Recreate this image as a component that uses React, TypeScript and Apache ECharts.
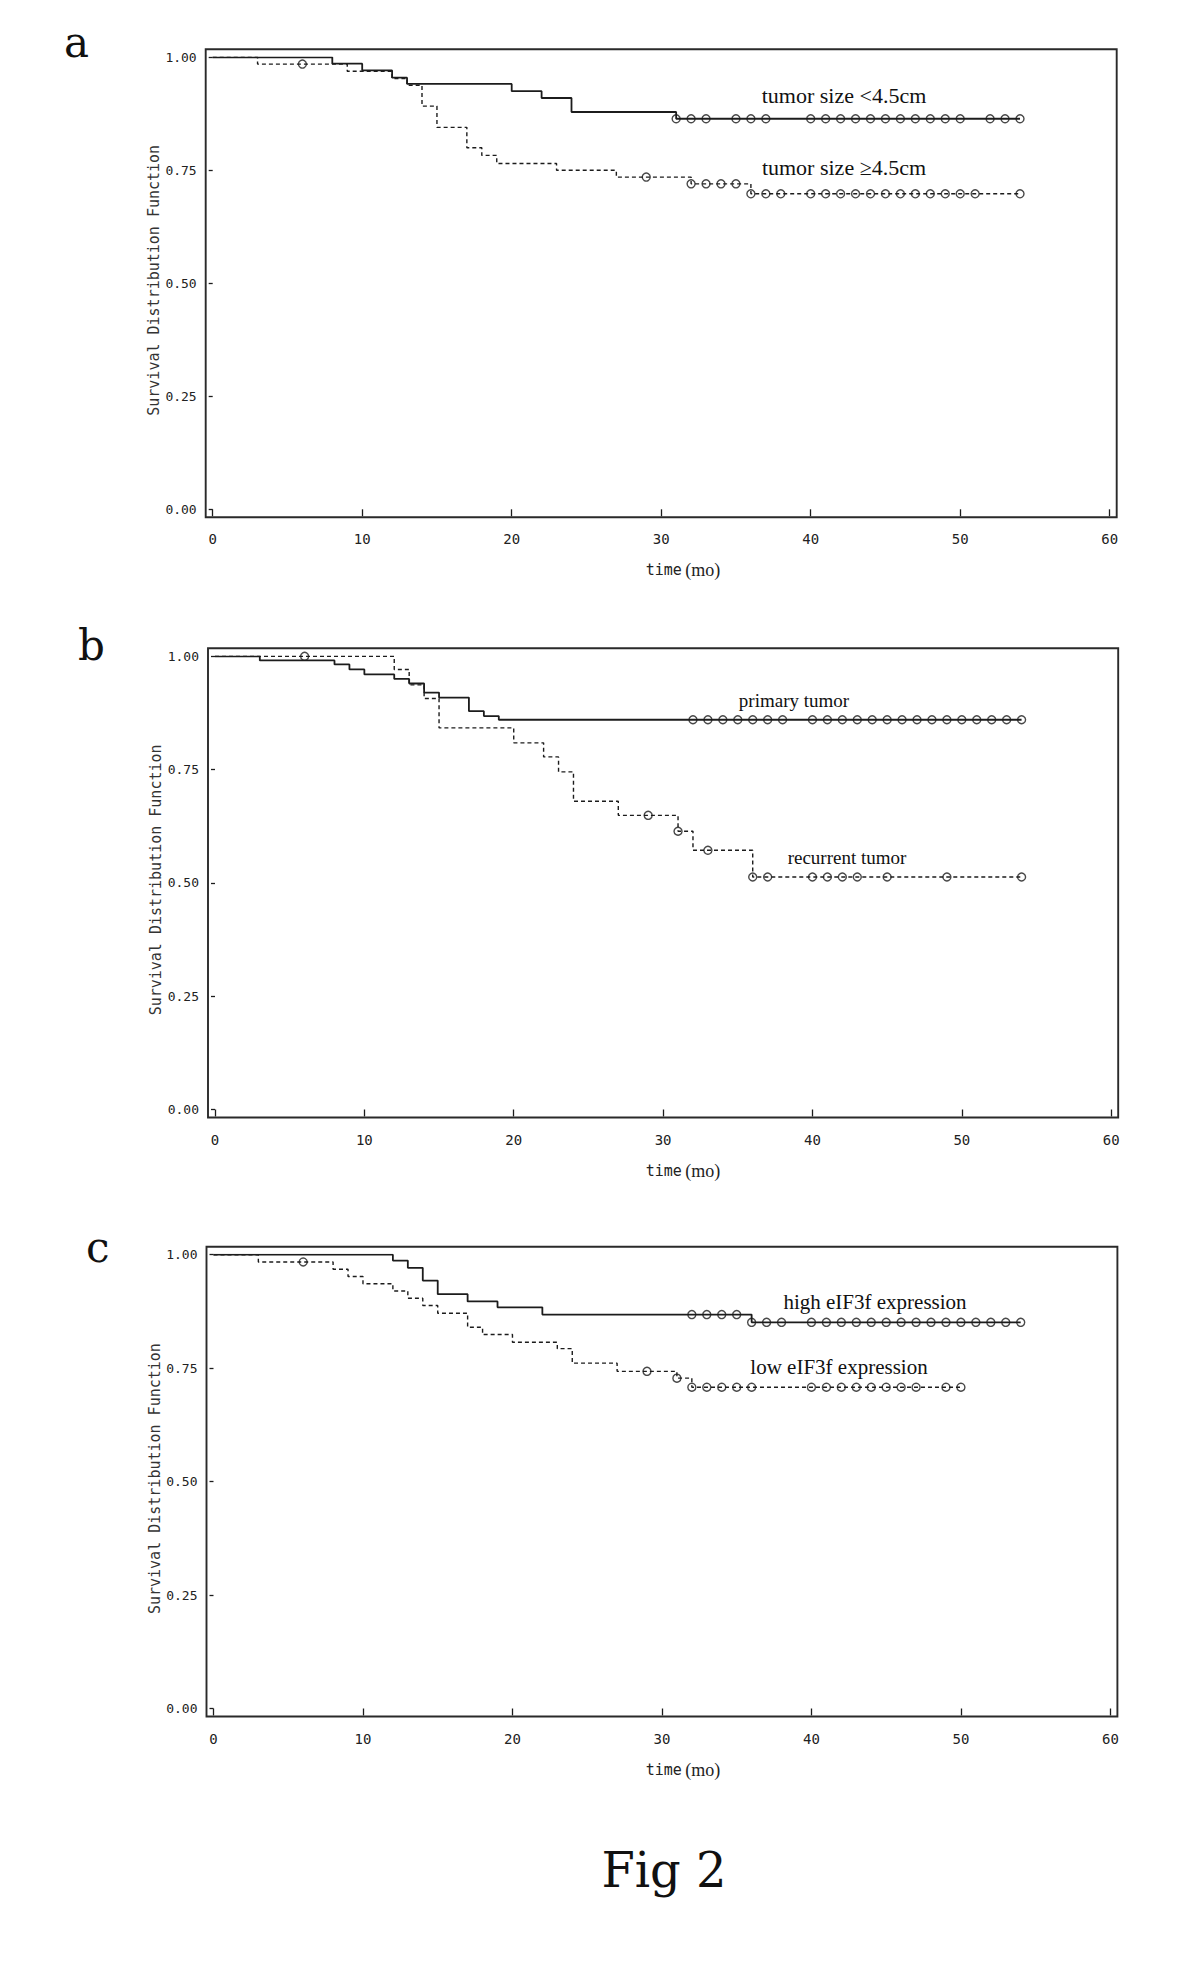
import React, { useEffect, useRef } from "react";
import * as echarts from "echarts";

// ---------- DATA ----------
const xTickMin = 0;
const xTickMax = 60;
const xTickStep = 10;
const yTickStep = 0.25;

// Panel a
const aSmallTimes = [0, 8, 10, 12, 13, 20, 22, 24, 31];
const aSmallSurv = [1, 0.986, 0.971, 0.955, 0.941, 0.925, 0.91, 0.879, 0.864];
const aSmallCensored = [31, 32, 33, 35, 36, 37, 40, 41, 42, 43, 44, 45, 46, 47, 48, 49, 50, 52, 53, 54];
const aLargeTimes = [0, 3, 9, 12, 13, 14, 15, 17, 18, 19, 23, 27, 32, 36];
const aLargeSurv = [1, 0.985, 0.969, 0.953, 0.938, 0.892, 0.845, 0.8, 0.783, 0.765, 0.75, 0.735, 0.72, 0.698];
const aLargeCensored = [6, 29, 32, 33, 34, 35, 36, 37, 38, 40, 41, 42, 43, 44, 45, 46, 47, 48, 49, 50, 51, 54];

// Panel b
const bPrimaryTimes = [0, 3, 8, 9, 10, 12, 13, 14, 15, 17, 18, 19];
const bPrimarySurv = [1, 0.991, 0.982, 0.971, 0.96, 0.95, 0.94, 0.92, 0.909, 0.879, 0.868, 0.86];
const bPrimaryCensored = [32, 33, 34, 35, 36, 37, 38, 40, 41, 42, 43, 44, 45, 46, 47, 48, 49, 50, 51, 52, 53, 54];
const bRecurTimes = [0, 12, 13, 14, 15, 20, 22, 23, 24, 27, 31, 32, 36];
const bRecurSurv = [1, 0.971, 0.937, 0.907, 0.842, 0.809, 0.778, 0.745, 0.68, 0.649, 0.614, 0.572, 0.513];
const bRecurCensored = [6, 29, 31, 33, 36, 37, 40, 41, 42, 43, 45, 49, 54];

// Panel c
const cHighTimes = [0, 12, 13, 14, 15, 17, 19, 22, 36];
const cHighSurv = [1, 0.987, 0.971, 0.943, 0.913, 0.897, 0.884, 0.868, 0.851];
const cHighCensored = [32, 33, 34, 35, 36, 37, 38, 40, 41, 42, 43, 44, 45, 46, 47, 48, 49, 50, 51, 52, 53, 54];
const cLowTimes = [0, 3, 8, 9, 10, 12, 13, 14, 15, 17, 18, 20, 23, 24, 27, 31, 32];
const cLowSurv = [1, 0.984, 0.968, 0.952, 0.936, 0.92, 0.904, 0.888, 0.871, 0.84, 0.824, 0.807, 0.793, 0.761, 0.743, 0.728, 0.708];
const cLowCensored = [6, 29, 31, 32, 33, 34, 35, 36, 40, 41, 42, 43, 44, 45, 46, 47, 49, 50];

const panelLetters = ["a", "b", "c"];
const groupLabels = [
  ["tumor size <4.5cm", "tumor size \u22654.5cm"],
  ["primary tumor", "recurrent tumor"],
  ["high eIF3f expression", "low eIF3f expression"],
];
const yTitle = "Survival Distribution Function";
const xTitleA = "time";
const xTitleB = "(mo)";
const figTitle = "Fig 2";

// ---------- LAYOUT ----------
const W = 1200;
const H = 1981;
const PADX = 7;
const PADY = 8;
const frames = [
  { l: 205.7, t: 49.3, r: 1116.7, b: 517.3 },
  { l: 208, t: 648.3, r: 1118.2, b: 1117.5 },
  { l: 206.5, t: 1246.7, r: 1117.4, b: 1716.5 },
];
const letterPos = [
  { x: 64, y: 63 },
  { x: 78, y: 666 },
  { x: 86, y: 1268 },
];
const labelPos = [
  [{ x: 844, y: 95, s: 22 }, { x: 844, y: 167, s: 22 }],
  [{ x: 794, y: 700, s: 19 }, { x: 847, y: 857, s: 19 }],
  [{ x: 875, y: 1302, s: 21 }, { x: 839, y: 1367, s: 21 }],
];

const INK = "#1c1c1c";

function stepData(times: number[], surv: number[], censored: number[]) {
  const pts: number[][] = times.map((t, i) => [t, surv[i]]);
  const lastC = censored[censored.length - 1];
  const lastT = times[times.length - 1];
  if (lastC > lastT) pts.push([lastC, surv[surv.length - 1]]);
  return pts;
}
function censorData(times: number[], surv: number[], censored: number[]) {
  return censored.map((c) => {
    let v = surv[0];
    for (let i = 0; i < times.length; i++) if (times[i] <= c) v = surv[i];
    return [c, v];
  });
}

const groups = [
  [
    { times: aSmallTimes, surv: aSmallSurv, cens: aSmallCensored, dashed: false },
    { times: aLargeTimes, surv: aLargeSurv, cens: aLargeCensored, dashed: true },
  ],
  [
    { times: bPrimaryTimes, surv: bPrimarySurv, cens: bPrimaryCensored, dashed: false },
    { times: bRecurTimes, surv: bRecurSurv, cens: bRecurCensored, dashed: true },
  ],
  [
    { times: cHighTimes, surv: cHighSurv, cens: cHighCensored, dashed: false },
    { times: cLowTimes, surv: cLowSurv, cens: cLowCensored, dashed: true },
  ],
];

export default function App() {
  const ref = useRef<HTMLDivElement>(null);
  useEffect(() => {
    document.body.style.margin = "0";
    if (!ref.current) return;
    const chart = echarts.init(ref.current, null, { renderer: "svg" });

    const grid: any[] = [];
    const xAxis: any[] = [];
    const yAxis: any[] = [];
    const series: any[] = [];
    const graphic: any[] = [];

    frames.forEach((f, i) => {
      const gl = f.l + PADX;
      const gr = f.r - PADX;
      const gt = f.t + PADY;
      const gb = f.b - PADY;
      grid.push({ left: gl, top: gt, width: gr - gl, height: gb - gt, show: false });
      xAxis.push({
        type: "value",
        gridIndex: i,
        min: xTickMin,
        max: xTickMax,
        interval: xTickStep,
        offset: PADY,
        axisLine: { show: false },
        axisTick: { show: true, length: 7, lineStyle: { color: INK, width: 1.3 } },
        axisLabel: {
          margin: 15,
          color: "#222",
          fontFamily: "DejaVu Sans Mono",
          fontSize: 14,
        },
        splitLine: { show: false },
      });
      yAxis.push({
        type: "value",
        gridIndex: i,
        min: 0,
        max: 1,
        interval: yTickStep,
        offset: PADX,
        axisLine: { show: false },
        axisTick: { show: true, length: 4, lineStyle: { color: INK, width: 1.3 } },
        axisLabel: {
          margin: 9,
          color: "#222",
          fontFamily: "DejaVu Sans Mono",
          fontSize: 13,
          formatter: (v: number) => v.toFixed(2),
        },
        splitLine: { show: false },
      });

      groups[i].forEach((g) => {
        series.push({
          type: "line",
          xAxisIndex: i,
          yAxisIndex: i,
          step: "end",
          symbol: "none",
          silent: true,
          data: stepData(g.times, g.surv, g.cens),
          lineStyle: {
            color: INK,
            width: g.dashed ? 1.4 : 1.8,
            type: g.dashed ? [4, 3] : "solid",
          },
          z: 2,
        });
        series.push({
          type: "scatter",
          xAxisIndex: i,
          yAxisIndex: i,
          symbol: "circle",
          symbolSize: 8,
          silent: true,
          data: censorData(g.times, g.surv, g.cens),
          itemStyle: { color: "rgba(255,255,255,0)", borderColor: INK, borderWidth: 1.4 },
          z: 3,
        });
      });

      graphic.push({
        type: "rect",
        shape: { x: f.l, y: f.t, width: f.r - f.l, height: f.b - f.t },
        style: { fill: "none", stroke: "#2a2a2a", lineWidth: 1.9 },
        silent: true,
        z: 10,
      });
      graphic.push({
        type: "text",
        x: letterPos[i].x,
        y: letterPos[i].y,
        style: {
          text: panelLetters[i],
          font: "42px 'DejaVu Serif'",
          fill: "#111",
          textAlign: "left",
          textVerticalAlign: "bottom",
          align: "left",
          verticalAlign: "bottom",
        },
      });
      groupLabels[i].forEach((lab, j) => {
        const p = labelPos[i][j];
        graphic.push({
          type: "text",
          x: p.x,
          y: p.y,
          style: {
            text: lab,
            font: `${p.s}px 'Liberation Serif'`,
            fill: "#111",
            textAlign: "center",
            textVerticalAlign: "middle",
            align: "center",
            verticalAlign: "middle",
          },
        });
      });
      graphic.push({
        type: "text",
        x: f.l - 52,
        y: (f.t + f.b) / 2 - 3,
        rotation: Math.PI / 2,
        style: {
          text: yTitle,
          font: "15px 'DejaVu Sans Mono'",
          fill: "#333",
          textAlign: "center",
          textVerticalAlign: "middle",
          align: "center",
          verticalAlign: "middle",
        },
      });
      graphic.push({
        type: "text",
        x: 683,
        y: f.b + 53,
        style: {
          text: `{a|${xTitleA}} {b|${xTitleB}}`,
          rich: {
            a: { font: "15px 'DejaVu Sans Mono'", fill: "#222" },
            b: { font: "18px 'Liberation Serif'", fill: "#222" },
          },
          textAlign: "center",
          textVerticalAlign: "middle",
          align: "center",
          verticalAlign: "middle",
        },
      });
    });

    graphic.push({
      type: "text",
      x: 664,
      y: 1870,
      style: {
        text: figTitle,
        font: "48px 'DejaVu Serif'",
        fill: "#111",
        textAlign: "center",
        textVerticalAlign: "middle",
        align: "center",
        verticalAlign: "middle",
      },
    });

    chart.setOption({
      animation: false,
      backgroundColor: "#ffffff",
      grid,
      xAxis,
      yAxis,
      series,
      graphic,
    });
    return () => chart.dispose();
  }, []);
  return <div ref={ref} style={{ width: W, height: H }} />;
}
